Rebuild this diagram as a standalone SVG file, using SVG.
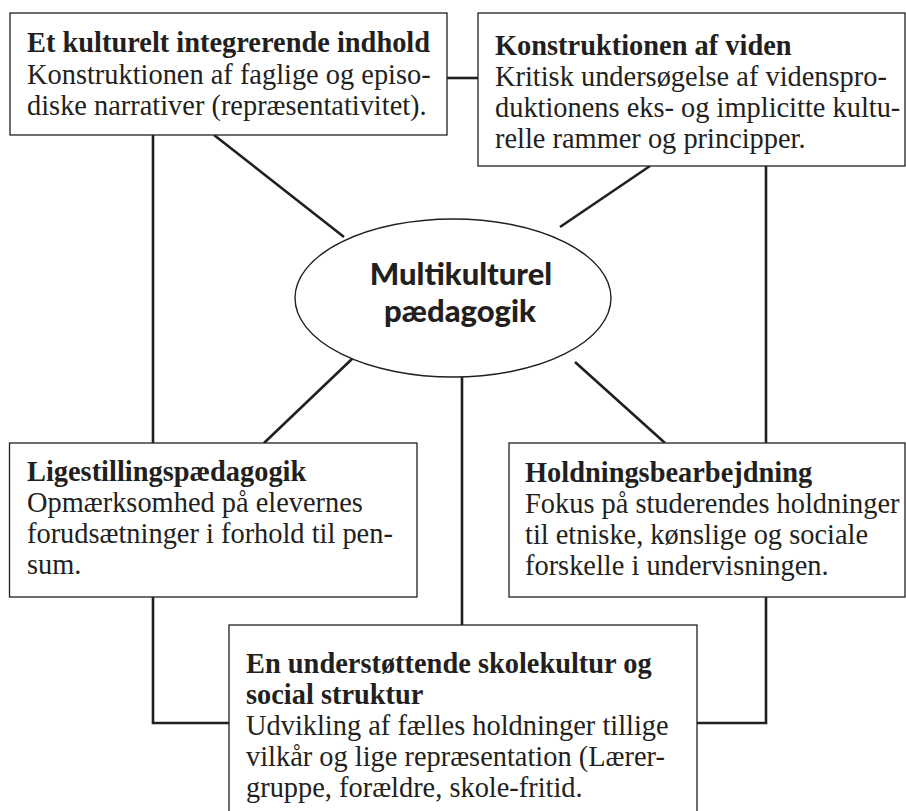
<svg xmlns="http://www.w3.org/2000/svg" width="906" height="811" viewBox="0 0 906 811">
<style>
.box{fill:#fff;stroke:#231f20;stroke-width:1.3}
.con{fill:none;stroke:#231f20;stroke-width:2.6}
.t{font-family:"Liberation Serif","Times New Roman",serif;font-size:28.4px;fill:#231f20}
.b{font-weight:bold}
.c{font-family:Lato,"Liberation Sans",sans-serif;font-weight:900;font-size:31px;fill:#231f20;text-anchor:middle}
</style>
<rect width="906" height="811" fill="#fff"/>
<g id="connectors">
<line class="con" x1="447" y1="78" x2="478" y2="78"/>
<line class="con" x1="214" y1="135" x2="344" y2="237"/>
<line class="con" x1="650" y1="166" x2="560" y2="227"/>
<line class="con" x1="264" y1="443" x2="353" y2="358"/>
<line class="con" x1="575" y1="362" x2="665" y2="443"/>
<line class="con" x1="153" y1="135" x2="153" y2="443"/>
<line class="con" x1="766" y1="166" x2="766" y2="443"/>
<line class="con" x1="462" y1="377" x2="462" y2="625"/>
<polyline class="con" points="153,597 153,723 229,723"/>
<polyline class="con" points="766,597 766,723 697,723"/>
</g>
<g id="center">
<ellipse cx="453" cy="298" rx="158" ry="79" fill="#fff" stroke="#231f20" stroke-width="1.4"/>
<text class="c" x="461" y="285">Multikulturel</text>
<text class="c" x="460" y="322">pædagogik</text>
</g>
<g id="node-indhold">
<rect class="box" x="10" y="13" width="437" height="122"/>
<text class="t b" x="27" y="52">Et kulturelt integrerende indhold</text>
<text class="t" x="27" y="84">Konstruktionen af faglige og episo-</text>
<text class="t" x="27" y="115">diske narrativer (repræsentativitet).</text>
</g>
<g id="node-viden">
<rect class="box" x="478" y="13" width="427" height="153"/>
<text class="t b" x="495" y="55">Konstruktionen af viden</text>
<text class="t" x="495" y="86">Kritisk undersøgelse af videnspro-</text>
<text class="t" x="495" y="117">duktionens eks- og implicitte kultu-</text>
<text class="t" x="495" y="148">relle rammer og principper.</text>
</g>
<g id="node-ligestilling">
<rect class="box" x="9.5" y="443" width="407.5" height="154"/>
<text class="t b" x="27" y="481">Ligestillingspædagogik</text>
<text class="t" x="27" y="512">Opmærksomhed på elevernes</text>
<text class="t" x="27" y="543">forudsætninger i forhold til pen-</text>
<text class="t" x="27" y="574">sum.</text>
</g>
<g id="node-holdning">
<rect class="box" x="509" y="443" width="396" height="154"/>
<text class="t b" x="525" y="482">Holdningsbearbejdning</text>
<text class="t" x="525" y="513">Fokus på studerendes holdninger</text>
<text class="t" x="525" y="544">til etniske, kønslige og sociale</text>
<text class="t" x="525" y="575">forskelle i undervisningen.</text>
</g>
<g id="node-skolekultur">
<rect class="box" x="229" y="625" width="468" height="210"/>
<text class="t b" x="246" y="673">En understøttende skolekultur og</text>
<text class="t b" x="246" y="704">social struktur</text>
<text class="t" x="246" y="735">Udvikling af fælles holdninger tillige</text>
<text class="t" x="246" y="766">vilkår og lige repræsentation (Lærer-</text>
<text class="t" x="246" y="797">gruppe, forældre, skole-fritid.</text>
</g>
</svg>
